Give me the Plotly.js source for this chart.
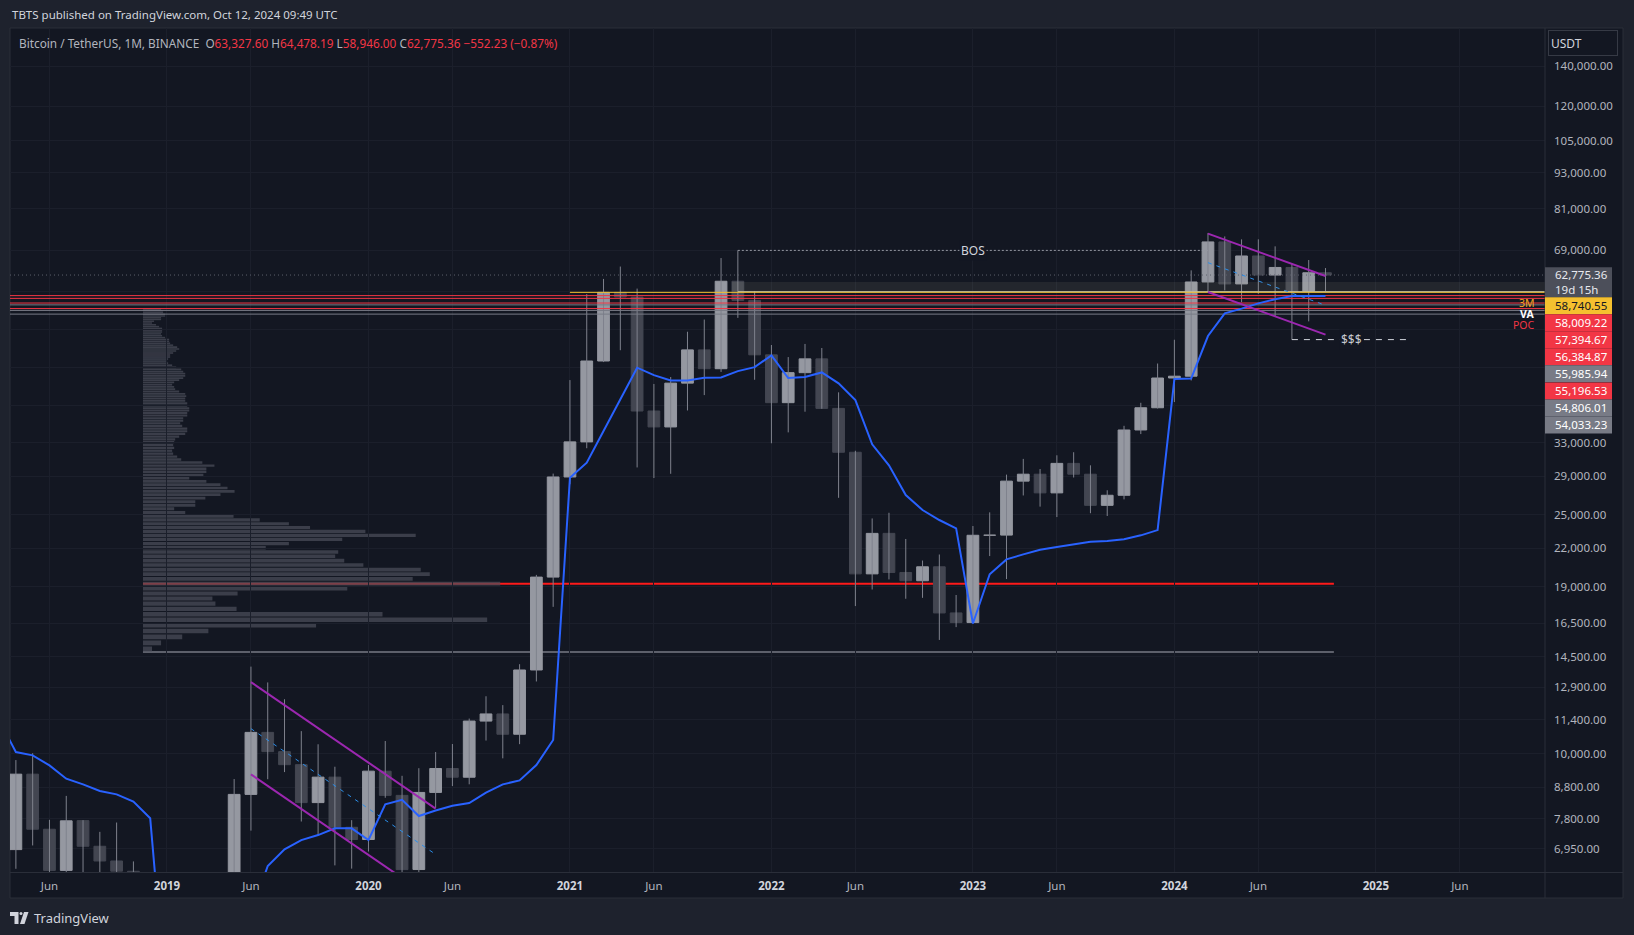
<!DOCTYPE html>
<html><head><meta charset="utf-8">
<script src="https://cdn.plot.ly/plotly-3.0.1.min.js"></script>
<style>html,body{margin:0;padding:0;background:#1e222d;overflow:hidden}#chart{width:1634px;height:935px}</style>
</head><body><div id="chart"></div>
<script>
// ---------------- DATA ----------------
const months = ['2018-01','2018-02','2018-03','2018-04','2018-05','2018-06','2018-07','2018-08','2018-09','2018-10','2018-11','2018-12',
'2019-01','2019-02','2019-03','2019-04','2019-05','2019-06','2019-07','2019-08','2019-09','2019-10','2019-11','2019-12',
'2020-01','2020-02','2020-03','2020-04','2020-05','2020-06','2020-07','2020-08','2020-09','2020-10','2020-11','2020-12',
'2021-01','2021-02','2021-03','2021-04','2021-05','2021-06','2021-07','2021-08','2021-09','2021-10','2021-11','2021-12',
'2022-01','2022-02','2022-03','2022-04','2022-05','2022-06','2022-07','2022-08','2022-09','2022-10','2022-11','2022-12',
'2023-01','2023-02','2023-03','2023-04','2023-05','2023-06','2023-07','2023-08','2023-09','2023-10','2023-11','2023-12',
'2024-01','2024-02','2024-03','2024-04','2024-05','2024-06','2024-07','2024-08','2024-09','2024-10'];
const open = [13715.65,10285.10,10325.64,6922.00,9246.01,7485.01,6391.08,7735.67,7011.21,6626.57,6369.52,4041.27,
3701.23,3434.10,3814.26,4102.44,5321.94,8555.00,10854.10,10080.53,9588.74,8289.97,9140.86,7540.63,
7195.24,9351.71,8523.61,6412.14,8620.00,9448.27,9138.08,11335.46,11649.51,10776.59,13791.00,19695.87,
28923.63,33092.97,45134.11,58739.46,57697.25,37254.24,35045.00,41461.84,47100.89,43820.01,61299.81,56950.56,
46216.93,38466.90,43160.00,45510.35,37631.83,31801.05,19942.21,23296.36,20048.44,19422.61,20490.74,17165.53,
16541.77,23125.13,23141.57,28465.36,29233.20,27210.36,30471.99,29232.26,25940.77,26962.57,34639.78,37723.97,
42283.58,42580.00,61130.99,71280.00,60672.01,67540.01,62772.01,64628.01,58974.00,63327.60];
const high = [17176.24,11786.01,11710.00,9759.82,10020.00,7760.00,8506.00,7750.00,7410.00,7680.00,6615.15,4312.99,
4069.80,4198.00,4140.00,5600.00,9074.26,13970.00,13147.08,12325.00,10905.87,10370.00,9513.68,7750.00,
9578.00,10500.00,9188.00,9460.00,10067.00,10380.00,11444.00,12468.00,12050.85,14100.00,19863.16,29300.00,
41950.00,58352.80,61844.00,64854.00,59592.20,41330.00,42448.00,50500.00,52920.00,67000.00,69000.00,59053.55,
47990.00,45821.00,48189.84,47444.11,40023.77,31986.10,24668.00,25211.32,22799.00,20988.00,21480.65,18387.95,
23960.54,25250.00,29184.68,31000.00,29820.00,31431.94,31804.20,30244.00,27483.57,35198.00,38450.00,44700.00,
48969.48,63913.13,73777.00,72797.99,71979.00,71997.02,70079.99,65660.00,66498.00,64478.19];
const low = [9035.00,6000.01,6600.10,6430.00,7032.95,5755.00,6070.00,5880.00,6111.00,6200.00,3652.66,3156.26,
3349.92,3373.10,3670.69,4067.00,5316.20,7444.58,9067.93,9320.00,7710.00,7300.00,6515.00,6435.00,
6871.04,8445.00,3782.13,6150.11,8117.00,8833.00,8893.03,10518.50,9825.00,10374.00,13195.05,17572.33,
28130.00,32296.16,44950.53,47044.01,30000.00,28805.00,29278.00,37332.70,39600.00,43283.03,53256.64,42000.30,
32917.17,34322.28,37155.00,37578.20,26700.00,17622.00,18781.00,19520.00,18125.98,18190.00,15476.00,16256.30,
16499.01,21351.07,19549.09,26942.82,25811.46,24800.00,28861.90,25166.00,24901.00,26538.66,34097.39,37615.86,
38555.00,41884.28,59005.00,59191.60,56552.82,58402.00,53485.93,49000.00,52550.00,58946.00];
const close = [10285.10,10326.50,6923.91,9246.01,7485.01,6391.08,7730.93,7011.21,6626.57,6371.93,4041.32,3702.90,
3434.10,3813.69,4103.95,5320.81,8555.00,10854.10,10080.53,9588.74,8289.34,9140.85,7541.89,7195.23,
9352.89,8523.61,6410.44,8620.00,9448.27,9138.55,11335.46,11649.51,10776.59,13791.00,19695.87,28923.63,
33092.98,45135.66,58740.55,57694.27,37253.81,35045.00,41461.83,47100.89,43824.10,61299.80,56950.56,46216.93,
38466.90,43160.00,45510.34,37630.80,31801.04,19942.21,23293.32,20050.02,19422.61,20490.74,17163.64,16542.40,
23125.13,23141.57,28465.36,29233.21,27210.35,30472.00,29232.25,25940.78,26962.56,34639.77,37723.96,42283.58,
42580.00,61130.98,71280.01,60672.00,67540.01,62772.01,64628.00,58973.99,63327.59,62775.36];
// yearly anchored VWAP (blue line)
const vwap = [12300,11800,11370,10065,9938,9563,9087,8890,8666,8557,8320,7805,
3700,3750,3850,4300,5000,5400,6499,6928,7180,7319,7510,7510,
7180,8234,8378,7873,8042,8193,8277,8612,8890,9028,9574,10540,
28850,30560,34500,39070,43990,42760,41900,41900,42340,42380,43420,44090,
46120,42280,42450,43200,41430,38850,32790,30240,26990,25480,24520,23750,
16480,19910,21080,21490,21880,22100,22330,22560,22620,22770,23120,23590,
42110,42200,49680,54190,55180,56310,57190,57920,57920,57920];

// x-axis tick labels
const xTickMonths = ['2018-06','2019-01','2019-06','2020-01','2020-06','2021-01','2021-06','2022-01','2022-06','2023-01','2023-06','2024-01','2024-06','2025-01','2025-06'];
const xTickLabels = ['Jun','2019','Jun','2020','Jun','2021','Jun','2022','Jun','2023','Jun','2024','Jun','2025','Jun'];
// y-axis ticks (log)
const yTickVals = [6950,7800,8800,10000,11400,12900,14500,16500,19000,22000,25000,29000,33000,38000,44000,51000,59000,69000,81000,93000,105000,120000,140000];
const yTickHidden = [38000,44000,51000,59000];

// horizontal levels
const levelPrices = [58740.55,58009.22,57394.67,56384.87,55985.94,55196.53,54806.01,54033.23];
const levelColors = ['#f5c02f','#f23645','#f23645','#f23645','#787b86','#f23645','#787b86','#787b86'];
const levelFrom   = ['2021-01',null,null,null,null,null,null,null];
const beigeLevel = 58900, beigeFrom = '2021-11';
const zoneTop = 61100, zoneBottom = 58900, zoneFrom = '2021-11';

// channel 2019-2020 and wedge 2024
const ch2019Months = ['2019-06','2020-05'];
const ch2019Upper = [13165, 8100];
const ch2019Lower = [9240, 5683];
const ch2019Mid   = [11010, 6797];
const wedgeMonths = ['2024-03','2024-10'];
const wedgeUpper = [73600, 62540];
const wedgeLower = [58810, 49940];
const wedgeMid   = [65830, 55890];

// BOS and liquidity
const bosMonths = ['2021-11','2024-03']; const bosPrice = 69000; const bosLabelMonth = '2023-01';
const sweepFrom = '2024-08'; const sweepPrice = 49000;

// fixed range volume profile (rows bottom -> top)
const vpBottom = 14770, vpStep = 355;
const vpVolume = [9,18,39,65,172,342,238,93,72,69,94,203,355,268,285,276,219,200,191,194,
122,145,198,271,221,166,145,116,90,42,31,52,52,62,77,91,84,77,63,46,
60,63,63,71,59,38,34,30,29,31,30,31,32,36,42,44,44,39,37,40,
40,44,44,46,46,44,44,42,42,43,42,36,32,31,29,31,36,40,42,42,
40,38,33,29,25,24,25,27,27,30,33,36,34,30,27,26,26,22,19,18,
19,19,19,16,13,9,11,18,18,22,22,20,20,18];

// right-scale price labels (stacked)
const scaleLabelPrices = [58740.55,58009.22,57394.67,56384.87,55985.94,55196.53,54806.01,54033.23];
const scaleLabelBg = ['#f5c02f','#f23645','#f23645','#f23645','#787b86','#f23645','#787b86','#787b86'];
const scaleLabelFg = ['#131722','#ffffff','#ffffff','#ffffff','#ffffff','#ffffff','#ffffff','#ffffff'];
const countdown = '19d 15h';

// ---------------- LAYOUT CONSTANTS ----------------
const W=1634,H=935,ML=10,MR=89,MT=28,MB=63;
const PW=W-ML-MR, PH=H-MT-MB;
const PXM = 16.79;                       // px per month
const X0 = 2.65;
const X_RANGE=[X0, X0+PW/PXM];
const Y_RANGE=[3.8029, 5.2095];
const VP_START = 10.57, VP_END = 81.5, VP_WIDTH = 0.30;
const SWEEP_END = 85.8;
const OUTER='#1e222d', PANE='#131722', GRID='#1b1f2b', BORDER='#2a2e39';
const UP='#9598a1', DOWN='#434651', WICK='#7f828d';
const FONT='"Noto Sans", "DejaVu Sans", sans-serif';

function idx(m){const [y,mo]=m.split('-').map(Number);return (y-2018)*12+(mo-1);}
const px2x = px => (px-ML)/PW;
const py2y = py => (H-MB-py)/PH;
const price2py = p => MT + (Y_RANGE[1]-Math.log10(p))*PH/(Y_RANGE[1]-Y_RANGE[0]);
const fmt = v => v.toLocaleString('en-US',{minimumFractionDigits:2,maximumFractionDigits:2});

const X = months.map(idx);
const traces = [];

// wicks
const wx=[],wy=[];
X.forEach((x,i)=>{wx.push(x,x,null);wy.push(low[i],high[i],null);});
traces.push({type:'scatter',mode:'lines',x:wx,y:wy,line:{color:WICK,width:1},hoverinfo:'skip'});
// bodies
const ux=[],ub=[],us=[],dx=[],db=[],ds=[];
X.forEach((x,i)=>{
  if(close[i]>=open[i]){ux.push(x);ub.push(open[i]);us.push(close[i]-open[i]);}
  else{dx.push(x);db.push(close[i]);ds.push(open[i]-close[i]);}
});
traces.push({type:'bar',x:ux,base:ub,y:us,width:0.7,marker:{color:UP,line:{color:UP,width:1}},hoverinfo:'skip'});
traces.push({type:'bar',x:dx,base:db,y:ds,width:0.7,marker:{color:DOWN,line:{color:DOWN,width:1}},hoverinfo:'skip'});

// levels
levelPrices.forEach((p,i)=>{
  const xs = levelFrom[i]? idx(levelFrom[i]) : X_RANGE[0];
  traces.push({type:'scatter',mode:'lines',x:[xs,X_RANGE[1]],y:[p,p],line:{color:levelColors[i],width:1},hoverinfo:'skip'});
});
traces.push({type:'scatter',mode:'lines',x:[idx(beigeFrom),X_RANGE[1]],y:[beigeLevel,beigeLevel],line:{color:'#cdbf8f',width:1},hoverinfo:'skip'});
// last price dotted
const last = close[close.length-1];
traces.push({type:'scatter',mode:'lines',x:[X_RANGE[0],X_RANGE[1]],y:[last,last],line:{color:'#5d606b',width:1,dash:'1px,3px'},hoverinfo:'skip'});
// BOS
traces.push({type:'scatter',mode:'lines',x:bosMonths.map(idx),y:[bosPrice,bosPrice],line:{color:'#9598a1',width:1,dash:'2px,2px'},hoverinfo:'skip'});
// liquidity sweep line
traces.push({type:'scatter',mode:'lines',x:[idx(sweepFrom),SWEEP_END],y:[sweepPrice,sweepPrice],line:{color:'#d1d4dc',width:1,dash:'6px,6px'},hoverinfo:'skip'});

// blue VWAP
traces.push({type:'scatter',mode:'lines',x:X,y:vwap,line:{color:'#2962ff',width:2},hoverinfo:'skip'});
// channels
const purple='#9c27b0', midBlue='#2a8de8';
[[ch2019Months,ch2019Upper],[ch2019Months,ch2019Lower],[wedgeMonths,wedgeUpper],[wedgeMonths,wedgeLower]].forEach(([m,v])=>{
  traces.push({type:'scatter',mode:'lines',x:m.map(idx),y:v,line:{color:purple,width:2},hoverinfo:'skip'});
});
[[ch2019Months,ch2019Mid],[wedgeMonths,wedgeMid]].forEach(([m,v])=>{
  traces.push({type:'scatter',mode:'lines',x:m.map(idx),y:v,line:{color:midBlue,width:1,dash:'4px,5px'},hoverinfo:'skip'});
});

// ---------------- SHAPES ----------------
const shapes=[];
// chart panel
shapes.push({type:'rect',xref:'paper',yref:'paper',x0:px2x(10),x1:px2x(1623),y0:py2y(898),y1:py2y(28),fillcolor:PANE,line:{color:BORDER,width:1},layer:'below'});
// volume profile: POC & bottom line, rows
const vpMax = Math.max(...vpVolume);
const pocRow = vpVolume.indexOf(vpMax);
const pocPrice = vpBottom + (pocRow+0.5)*vpStep;
shapes.push({type:'line',xref:'x',yref:'y',x0:VP_START,x1:VP_END,y0:pocPrice,y1:pocPrice,line:{color:'#ff1a1a',width:2},layer:'below'});
shapes.push({type:'line',xref:'x',yref:'y',x0:VP_START,x1:VP_END,y0:vpBottom,y1:vpBottom,line:{color:'#5d606b',width:2},layer:'below'});
vpVolume.forEach((v,i)=>{
  shapes.push({type:'rect',xref:'x',yref:'y',x0:VP_START,x1:VP_START+v/vpMax*VP_WIDTH*(VP_END-VP_START),
    y0:vpBottom+(i+0.1)*vpStep,y1:vpBottom+(i+0.9)*vpStep,fillcolor:'rgba(75,78,90,0.72)',line:{width:0},layer:'below'});
});
// shaded zone
shapes.push({type:'rect',xref:'x',yref:'y',x0:idx(zoneFrom)-0.35,x1:X_RANGE[1],y0:zoneBottom,y1:zoneTop,fillcolor:'rgba(200,205,170,0.09)',line:{width:0},layer:'above'});
// separators
shapes.push({type:'line',xref:'paper',yref:'paper',x0:px2x(1545),x1:px2x(1545),y0:py2y(898),y1:py2y(28),line:{color:BORDER,width:1},layer:'above'});
shapes.push({type:'line',xref:'paper',yref:'paper',x0:px2x(10),x1:px2x(1623),y0:py2y(872.5),y1:py2y(872.5),line:{color:BORDER,width:1},layer:'above'});

// right scale labels
const annotations=[];
function scaleLabel(cy,h,bg,fg,text){
  shapes.push({type:'rect',xref:'paper',yref:'paper',x0:px2x(1545),x1:px2x(1612),y0:py2y(cy+h/2),y1:py2y(cy-h/2),fillcolor:bg,line:{width:0},layer:'above'});
  annotations.push({xref:'paper',yref:'paper',x:px2x(1553),y:py2y(cy),xanchor:'left',yanchor:'middle',showarrow:false,text:text,font:{family:FONT,size:11.5,color:fg},align:'left'});
}
const lastPy = price2py(last);
scaleLabel(lastPy+7.3,30,'#4c4f5a','#e8e9ee',fmt(last)+'<br>'+countdown);
scaleLabelPrices.forEach((p,i)=>{
  scaleLabel(lastPy+30.6+i*17.05,17,scaleLabelBg[i],scaleLabelFg[i],fmt(p));
});

// header & legend
annotations.push({xref:'paper',yref:'paper',x:px2x(10),y:py2y(15),xanchor:'left',yanchor:'middle',showarrow:false,
  text:'TBTS published on TradingView.com, Oct 12, 2024 09:49 UTC',font:{family:FONT,size:11.5,color:'#d1d4dc'}});
const n=close.length-1, chg=close[n]-close[n-1], pct=chg/close[n-1]*100;
const red='#f23645', sp='&nbsp;';
const legendText = 'Bitcoin / TetherUS, 1M, BINANCE'+sp+sp+
  'O<span style="color:'+red+'">'+fmt(open[n])+'</span>'+sp+
  'H<span style="color:'+red+'">'+fmt(high[n])+'</span>'+sp+
  'L<span style="color:'+red+'">'+fmt(low[n])+'</span>'+sp+
  'C<span style="color:'+red+'">'+fmt(close[n])+sp+'\u2212'+fmt(Math.abs(chg))+' (\u2212'+Math.abs(pct).toFixed(2)+'%)</span>';
annotations.push({xref:'paper',yref:'paper',x:px2x(17),y:py2y(42.5),xanchor:'left',yanchor:'middle',showarrow:false,
  text:legendText,font:{family:FONT,size:11.8,color:'#b2b5be'}});
// USDT button
annotations.push({xref:'paper',yref:'paper',x:px2x(1548),y:py2y(43.5),xanchor:'left',yanchor:'middle',showarrow:false,
  text:'USDT',font:{family:FONT,size:12,color:'#d1d4dc'},width:64,height:20,align:'left',borderpad:2,bordercolor:'#363a45',borderwidth:1,bgcolor:PANE});
// BOS label, $$$ label
annotations.push({xref:'x',yref:'y',x:idx(bosLabelMonth),y:Math.log10(bosPrice),showarrow:false,text:'BOS',
  font:{family:FONT,size:12,color:'#d1d4dc'},bgcolor:PANE,borderpad:1});
annotations.push({xref:'x',yref:'y',x:82.52,y:Math.log10(sweepPrice),showarrow:false,text:'$$$',
  font:{family:FONT,size:12,color:'#c8cad0'},bgcolor:PANE,borderpad:1});
// 3M / VA / POC tags (kept just apart so they don't collide)
annotations.push({xref:'paper',yref:'paper',x:px2x(1537),y:py2y(302.5),xanchor:'right',yanchor:'middle',showarrow:false,text:'3M',font:{family:FONT,size:10.5,color:'#f5a623'}});
annotations.push({xref:'paper',yref:'paper',x:px2x(1536),y:py2y(313.5),xanchor:'right',yanchor:'middle',showarrow:false,text:'<b>VA</b>',font:{family:FONT,size:10.5,color:'#ffffff'}});
annotations.push({xref:'paper',yref:'paper',x:px2x(1537),y:py2y(324.5),xanchor:'right',yanchor:'middle',showarrow:false,text:'POC',font:{family:FONT,size:10.5,color:'#f23645'}});
// TradingView footer
annotations.push({xref:'paper',yref:'paper',x:px2x(32),y:py2y(918),xanchor:'left',yanchor:'middle',showarrow:false,text:'TradingView',font:{family:FONT,size:13,color:'#d1d4dc'}});
function pth(pts){return 'M'+pts.map(p=>px2x(p[0])+','+py2y(p[1])).join(' L')+' Z';}
shapes.push({type:'path',xref:'paper',yref:'paper',path:pth([[10,912],[18.5,912],[18.5,924],[14.5,924],[14.5,916],[10,916]]),fillcolor:'#d1d4dc',line:{width:0}});
shapes.push({type:'circle',xref:'paper',yref:'paper',x0:px2x(19.5),x1:px2x(22.5),y0:py2y(915),y1:py2y(912),fillcolor:'#d1d4dc',line:{width:0}});
shapes.push({type:'path',xref:'paper',yref:'paper',path:pth([[24,912],[28.5,912],[24.5,924],[20,924]]),fillcolor:'#d1d4dc',line:{width:0}});

// ---------------- AXES ----------------
const yearSet = new Set(['2019','2020','2021','2022','2023','2024','2025']);
const layout = {
  width:W,height:H,margin:{l:ML,r:MR,t:MT,b:MB,pad:0},
  paper_bgcolor:OUTER,plot_bgcolor:PANE,showlegend:false,
  barmode:'overlay',bargap:0,hovermode:false,
  font:{family:FONT,color:'#b2b5be',size:11.5},
  xaxis:{range:X_RANGE,tickmode:'array',tickvals:xTickMonths.map(idx),
    ticktext:xTickLabels.map(t=>yearSet.has(t)?'<span style="color:#d1d4dc"><b>'+t+'</b></span>':t),
    showgrid:true,gridcolor:GRID,gridwidth:1,zeroline:false,showline:false,ticks:'',ticklabelstandoff:5,
    tickfont:{family:FONT,size:11.5,color:'#b2b5be'},fixedrange:true},
  yaxis:{type:'log',range:Y_RANGE,side:'right',tickmode:'array',tickvals:yTickVals,
    ticktext:yTickVals.map(v=>yTickHidden.includes(v)?'':fmt(v)),
    showgrid:true,gridcolor:GRID,gridwidth:1,zeroline:false,showline:false,ticks:'',ticklabelstandoff:8,
    tickfont:{family:FONT,size:11.5,color:'#b2b5be'},fixedrange:true},
  shapes:shapes,annotations:annotations
};
Plotly.newPlot('chart',traces,layout,{staticPlot:true,displayModeBar:false});
</script>
</body></html>
